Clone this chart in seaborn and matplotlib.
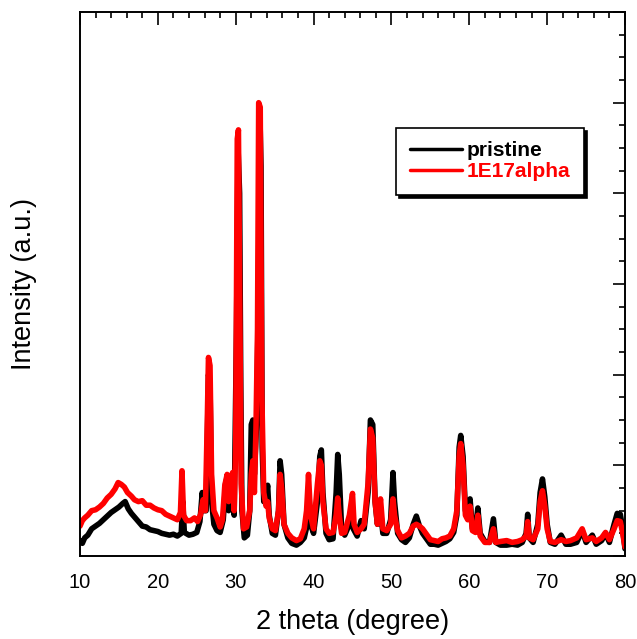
#%% LIB
import matplotlib
matplotlib.use('Agg')
import matplotlib.pyplot as plt
import seaborn as sns
import pandas as pd
from matplotlib.ticker import MultipleLocator

#%% DATA
# ---------------------------------------------------
# XRD patterns (2 theta, intensity a.u.)
# ---------------------------------------------------
pristine_2theta = [
    10.0, 10.3, 10.6, 11.0, 11.5, 12.0, 12.5, 13.0, 13.5, 14.0, 14.5, 15.0, 15.5, 15.8,
    16.2, 16.6, 17.0, 17.5, 18.0, 18.5, 19.0, 19.5, 20.0, 20.5, 21.0, 21.5, 22.0, 22.5,
    23.0, 23.2, 23.4, 24.0, 24.5, 25.0, 25.4, 25.7, 25.9, 26.2, 26.5, 26.7, 26.9, 27.2,
    27.6, 28.0, 28.4, 28.7, 28.9, 29.1, 29.4, 29.6, 29.8, 30.1, 30.3, 30.5, 30.65, 30.8,
    31.1, 31.5, 31.8, 32.0, 32.2, 32.4, 32.7, 32.9, 33.1, 33.25, 33.4, 33.6, 33.9, 34.1,
    34.3, 34.7, 35.1, 35.5, 35.7, 35.9, 36.2, 36.7, 37.2, 37.8, 38.3, 38.8, 39.2, 39.4,
    39.6, 40.0, 40.5, 40.8, 41.0, 41.2, 41.6, 42.0, 42.5, 42.9, 43.1, 43.3, 43.6, 44.0,
    44.6, 44.9, 45.1, 45.6, 46.1, 46.5, 47.0, 47.3, 47.6, 47.9, 48.2, 48.6, 48.9, 49.4,
    49.9, 50.2, 50.4, 50.8, 51.3, 51.8, 52.3, 52.8, 53.2, 53.6, 54.0, 54.5, 55.0, 55.5,
    56.0, 56.5, 57.0, 57.5, 58.0, 58.4, 58.7, 58.9, 59.2, 59.5, 59.8, 60.1, 60.4, 60.8,
    61.1, 61.4, 62.0, 62.6, 63.1, 63.4, 64.0, 64.8, 65.5, 66.2, 66.8, 67.3, 67.5, 67.7,
    68.2, 68.8, 69.1, 69.4, 69.7, 70.0, 70.4, 71.0, 71.8, 72.4, 73.0, 73.8, 74.5, 75.0,
    75.8, 76.3, 77.0, 77.5, 78.0, 78.6, 79.0, 79.4, 79.7, 80.0,
]
pristine_int = [
    170, 140, 200, 230, 300, 330, 360, 400, 440, 480, 510, 540, 580, 600,
    520, 470, 430, 380, 330, 320, 290, 280, 270, 250, 240, 230, 240, 220,
    250, 600, 260, 230, 240, 260, 380, 700, 500, 500, 2000, 1900, 600, 350,
    280, 260, 400, 800, 870, 500, 550, 800, 450, 2500, 4500, 4000, 1900, 500,
    200, 230, 500, 1450, 1500, 900, 1500, 2800, 4900, 4300, 1200, 600, 650, 780,
    450, 250, 230, 500, 1050, 900, 350, 200, 140, 120, 150, 200, 350, 700,
    350, 250, 600, 1100, 1170, 700, 250, 180, 190, 700, 1120, 900, 300, 230,
    350, 500, 300, 220, 390, 300, 700, 1500, 1450, 600, 350, 500, 250, 250,
    400, 920, 600, 250, 180, 150, 200, 350, 440, 330, 250, 190, 130, 130,
    120, 140, 160, 190, 260, 450, 1200, 1330, 1100, 500, 450, 630, 300, 300,
    530, 250, 160, 150, 410, 150, 120, 120, 130, 120, 150, 250, 460, 200,
    150, 350, 700, 850, 650, 350, 150, 130, 230, 130, 130, 150, 280, 150,
    230, 130, 170, 250, 150, 350, 470, 460, 300, 80,
]

alpha_2theta = [
    10.0, 10.3, 10.6, 11.0, 11.5, 12.0, 12.5, 13.0, 13.5, 14.0, 14.5, 14.9, 15.3, 15.7,
    16.1, 16.6, 17.0, 17.5, 18.0, 18.5, 19.0, 19.5, 20.0, 20.5, 21.0, 21.5, 22.0, 22.5,
    22.9, 23.1, 23.3, 23.7, 24.2, 24.7, 25.1, 25.5, 25.8, 26.1, 26.35, 26.5, 26.7, 26.9,
    27.2, 27.6, 28.0, 28.3, 28.6, 28.9, 29.1, 29.4, 29.6, 29.8, 30.0, 30.2, 30.35, 30.5,
    30.7, 31.0, 31.4, 31.8, 32.0, 32.2, 32.4, 32.6, 32.8, 32.95, 33.15, 33.35, 33.6, 33.9,
    34.1, 34.3, 34.7, 35.1, 35.5, 35.7, 35.9, 36.2, 36.7, 37.2, 37.8, 38.3, 38.8, 39.1,
    39.35, 39.6, 40.0, 40.5, 40.8, 41.0, 41.2, 41.6, 42.0, 42.5, 42.9, 43.1, 43.3, 43.6,
    44.0, 44.6, 45.0, 45.2, 45.6, 46.1, 46.5, 47.0, 47.3, 47.6, 47.9, 48.2, 48.6, 48.9,
    49.4, 49.9, 50.2, 50.4, 50.8, 51.3, 51.8, 52.3, 52.8, 53.2, 53.6, 54.0, 54.5, 55.0,
    55.5, 56.0, 56.5, 57.0, 57.5, 58.0, 58.4, 58.7, 58.9, 59.2, 59.5, 59.8, 60.1, 60.4,
    60.8, 61.1, 61.4, 62.0, 62.6, 63.1, 63.4, 64.0, 64.8, 65.5, 66.2, 66.8, 67.3, 67.5,
    67.7, 68.2, 68.8, 69.1, 69.4, 69.7, 70.0, 70.4, 71.0, 71.8, 72.4, 73.0, 73.8, 74.5,
    75.0, 75.8, 76.3, 77.0, 77.5, 78.0, 78.6, 79.0, 79.4, 79.7, 80.0,
]
alpha_int = [
    330, 390, 420, 450, 500, 510, 540, 580, 640, 680, 740, 810, 790, 760,
    700, 660, 620, 600, 610, 560, 560, 530, 510, 500, 460, 440, 420, 400,
    480, 940, 450, 390, 390, 420, 380, 460, 620, 500, 1500, 2190, 2100, 900,
    500, 420, 320, 400, 780, 900, 600, 700, 920, 500, 1200, 4600, 4700, 3000,
    800, 300, 320, 500, 900, 1050, 700, 1400, 2500, 5000, 4950, 1800, 700, 550,
    600, 420, 300, 280, 500, 900, 750, 350, 250, 200, 170, 190, 300, 500,
    900, 450, 300, 800, 1050, 1000, 600, 300, 250, 260, 450, 640, 450, 250,
    260, 450, 690, 350, 260, 300, 350, 800, 1400, 1300, 600, 350, 630, 300,
    280, 350, 630, 450, 280, 200, 220, 250, 330, 350, 330, 300, 240, 180,
    170, 160, 190, 200, 220, 300, 500, 1100, 1240, 1000, 450, 400, 550, 280,
    260, 450, 220, 150, 150, 300, 150, 160, 170, 150, 160, 180, 220, 380,
    200, 180, 300, 600, 720, 550, 300, 160, 150, 180, 160, 170, 200, 300,
    180, 200, 160, 200, 260, 180, 300, 390, 380, 250, 100,
]

samples = ['pristine', '1E17alpha']
colors = {'pristine': '#000000', '1E17alpha': '#ff0000'}

df = pd.concat([
    pd.DataFrame({'two_theta': pristine_2theta, 'intensity': pristine_int, 'sample': 'pristine'}),
    pd.DataFrame({'two_theta': alpha_2theta, 'intensity': alpha_int, 'sample': '1E17alpha'}),
], ignore_index=True)

#%% PLOT
sns.set_style('white')
plt.rcParams['font.family'] = ['Liberation Sans', 'DejaVu Sans']
plt.rcParams['text.color'] = 'black'
plt.rcParams['axes.labelcolor'] = 'black'
plt.rcParams['xtick.color'] = 'black'
plt.rcParams['ytick.color'] = 'black'

fig = plt.figure(figsize=(6.37, 6.39), dpi=100)
ax = fig.add_axes([80 / 637, 83 / 639, 545 / 637, 544 / 639])

sns.lineplot(data=df, x='two_theta', y='intensity', hue='sample', hue_order=samples,
             palette=colors, estimator=None, sort=False, linewidth=4, ax=ax)

ax.set_xlim(10, 80)
ax.set_ylim(0, 6000)
ax.xaxis.set_major_locator(MultipleLocator(10))
ax.xaxis.set_minor_locator(MultipleLocator(2))
ax.yaxis.set_major_locator(MultipleLocator(1000))
ax.yaxis.set_minor_locator(MultipleLocator(250))
ax.tick_params(which='both', direction='in', top=True, right=True, labelleft=False,
               color='black', labelcolor='black', width=1.2)
ax.tick_params(which='major', length=9, labelsize=14.5, pad=12.5)
ax.tick_params(which='minor', length=4.5)
for s in ax.spines.values():
    s.set_color('black')
    s.set_linewidth(1.4)

ax.set_xlabel('2 theta (degree)', fontsize=19.5, labelpad=12, color='black')
ax.set_ylabel('Intensity (a.u.)', fontsize=19.5, labelpad=31, color='black')

leg = ax.legend(loc='upper left', bbox_to_anchor=(0.58, 0.787), fancybox=False,
                shadow={'color': 'black', 'alpha': 1}, framealpha=1, edgecolor='black',
                labelcolor='linecolor', prop={'weight': 'bold', 'size': 15},
                handlelength=2.5, handletextpad=0.25, borderpad=0.65, labelspacing=0.1,
                borderaxespad=0)
leg.get_frame().set_linewidth(1.2)
for line in leg.get_lines():
    line.set_linewidth(2.5)

fig.savefig('out.png', dpi=100)
